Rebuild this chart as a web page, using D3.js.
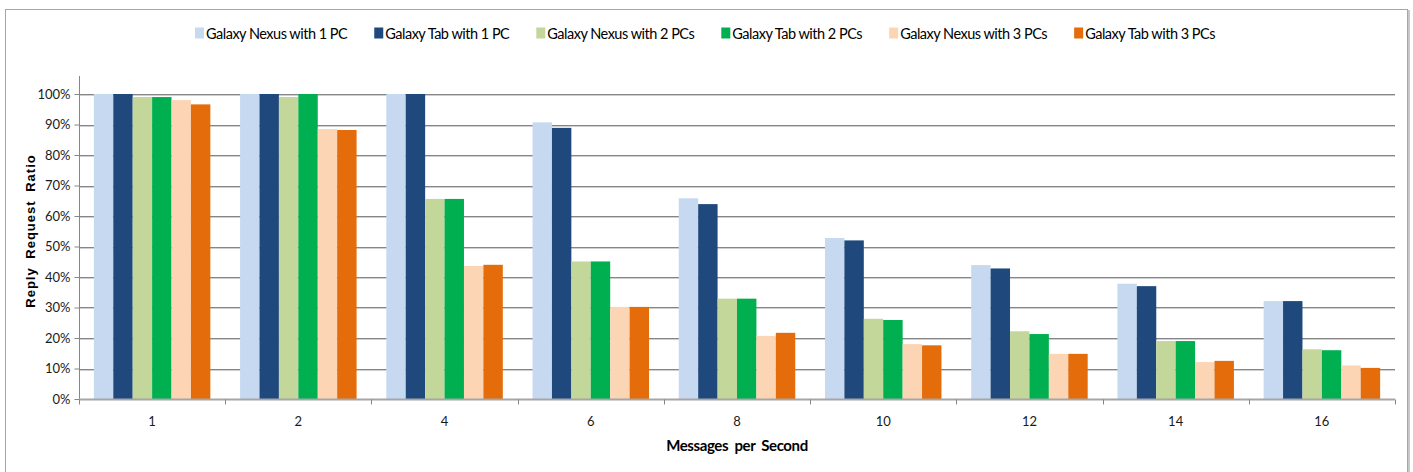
<!DOCTYPE html>
<html>
<head>
<meta charset="utf-8">
<script src="https://cdn.jsdelivr.net/npm/d3@7"></script>
<style>
  html, body { margin: 0; padding: 0; background: #fff; }
  svg { display: block; }
  .narrow { font-family: Lato, "Liberation Sans Narrow", "DejaVu Sans Condensed", sans-serif; }
</style>
</head>
<body>
<svg id="chart" width="1413" height="472"></svg>
<script>
// Message rates on the x axis
const categories = ["1", "2", "4", "6", "8", "10", "12", "14", "16"];

// Series names and their reply/request ratios (%) per message rate
const seriesNames = [
  "Galaxy Nexus with 1 PC",
  "Galaxy Tab with 1 PC",
  "Galaxy Nexus with 2 PCs",
  "Galaxy Tab with 2 PCs",
  "Galaxy Nexus with 3 PCs",
  "Galaxy Tab with 3 PCs"
];
const nexus1PC = [100, 100, 100, 90.7, 65.8, 52.8, 43.9, 37.8, 32.1];
const tab1PC   = [100, 100, 100, 88.9, 63.9, 52.0, 42.8, 37.0, 32.1];
const nexus2PC = [99.0, 99.0, 65.6, 45.1, 32.9, 26.3, 22.2, 19.0, 16.3];
const tab2PC   = [99.0, 100, 65.6, 45.1, 32.9, 25.9, 21.3, 19.0, 16.0];
const nexus3PC = [98.0, 88.5, 43.6, 30.2, 20.7, 18.0, 14.8, 12.1, 11.0];
const tab3PC   = [96.6, 88.2, 44.0, 30.2, 21.7, 17.6, 14.8, 12.5, 10.2];
const seriesValues = [nexus1PC, tab1PC, nexus2PC, tab2PC, nexus3PC, tab3PC];
const seriesColors = ["#C6D9F1", "#1F497D", "#C4D79B", "#00B050", "#FCD5B5", "#E46C0A"];

// Y tick values (ratio %)
const yTicks = [0, 10, 20, 30, 40, 50, 60, 70, 80, 90, 100];

const svg = d3.select("#chart");

// Outer chart frame
svg.append("rect")
  .attr("x", 5.5).attr("y", 9.5)
  .attr("width", 1402).attr("height", 480)
  .attr("fill", "none").attr("stroke", "#a6a6a6").attr("stroke-width", 1);
svg.append("line")
  .attr("x1", 1409).attr("x2", 1409).attr("y1", 10).attr("y2", 472)
  .attr("stroke", "#c8c8c8").attr("stroke-width", 2);

// Plot area
const plot = { left: 79, right: 1395, top: 76, bottom: 399 };

const y = d3.scaleLinear().domain([0, 100]).range([plot.bottom, plot.bottom - 305]);
const x0 = d3.scaleBand().domain(categories).range([plot.left, plot.right]).padding(0);
const groupWidth = 116.5;
const x1 = d3.scaleBand().domain(d3.range(seriesNames.length))
  .range([(x0.bandwidth() - groupWidth) / 2, (x0.bandwidth() + groupWidth) / 2]).padding(0);

// Gridlines (dark line with a soft lighter line underneath)
const grid = svg.append("g");
yTicks.filter(t => t > 0).forEach(t => {
  const yy = Math.round(y(t));
  grid.append("line").attr("x1", plot.left).attr("x2", plot.right)
    .attr("y1", yy + 0.5).attr("y2", yy + 0.5).attr("stroke", "#868686");
  grid.append("line").attr("x1", plot.left).attr("x2", plot.right)
    .attr("y1", yy + 1.5).attr("y2", yy + 1.5).attr("stroke", "#cfcfcf");
});

// Bars
const groups = svg.append("g").selectAll("g")
  .data(categories)
  .join("g")
  .attr("transform", d => `translate(${x0(d)},0)`);

groups.selectAll("rect")
  .data((d, i) => seriesValues.map((vals, s) => ({ s, v: vals[i] })))
  .join("rect")
  .attr("x", d => x1(d.s))
  .attr("width", x1.bandwidth())
  .attr("y", d => y(d.v))
  .attr("height", d => y(0) - y(d.v))
  .attr("fill", d => seriesColors[d.s]);

// Y axis
const yAxis = svg.append("g")
  .attr("transform", `translate(${plot.left + 0.5},0)`)
  .call(d3.axisLeft(y).tickValues(yTicks).tickFormat(d => d + "%").tickSize(5).tickSizeOuter(0));
yAxis.select(".domain").remove();
yAxis.append("line").attr("x1", 0).attr("x2", 0).attr("y1", plot.top).attr("y2", plot.bottom)
  .attr("stroke", "#868686");
yAxis.selectAll(".tick line").attr("stroke", "#868686");
yAxis.selectAll(".tick text").attr("font-size", 13).attr("fill", "#1a1a1a").attr("x", -9)
  .attr("font-family", "Lato, 'DejaVu Sans Condensed', sans-serif");

// X axis
const xAxis = svg.append("g")
  .attr("transform", `translate(0,${plot.bottom + 0.5})`);
xAxis.append("line").attr("x1", plot.left).attr("x2", plot.right).attr("y1", 0).attr("y2", 0)
  .attr("stroke", "#a6a6a6").attr("stroke-width", 2);
const xBoundaries = categories.map(c => x0(c)).concat([x0(categories[categories.length - 1]) + x0.bandwidth()]);
xAxis.selectAll("line.tk")
  .data(xBoundaries)
  .join("line").attr("class", "tk")
  .attr("x1", d => Math.round(d) + 0.5).attr("x2", d => Math.round(d) + 0.5)
  .attr("y1", 0).attr("y2", 5).attr("stroke", "#868686");
xAxis.selectAll("text")
  .data(categories)
  .join("text")
  .attr("class", "narrow")
  .attr("x", d => x0(d) + x0.bandwidth() / 2)
  .attr("y", 26)
  .attr("text-anchor", "middle")
  .attr("font-size", 13)
  .attr("fill", "#1a1a1a")
  .text(d => d);

// Axis titles
svg.append("text")
  .attr("transform", "translate(35,231) rotate(-90)")
  .attr("text-anchor", "middle")
  .attr("font-family", "'Liberation Sans', Arial, sans-serif")
  .attr("font-weight", "bold")
  .attr("font-size", 13)
  .attr("letter-spacing", 1)
  .attr("word-spacing", 4)
  .attr("fill", "#000")
  .text("Reply Request Ratio");

svg.append("text")
  .attr("class", "narrow")
  .attr("x", 737).attr("y", 451)
  .attr("text-anchor", "middle")
  .attr("font-weight", "bold")
  .attr("font-size", 15)
  .attr("letter-spacing", -0.4)
  .attr("word-spacing", 3)
  .attr("fill", "#000")
  .text("Messages per Second");

// Legend
const legend = svg.append("g").attr("class", "narrow");
let lx = 0;
const items = seriesNames.map((name, i) => {
  const g = legend.append("g");
  g.append("rect").attr("x", 0).attr("y", -5.5).attr("width", 9).attr("height", 11)
    .attr("fill", seriesColors[i]);
  const t = g.append("text").attr("x", 11).attr("y", 5.5)
    .attr("font-size", 14.5).attr("letter-spacing", -0.5)
    .attr("fill", "#000").text(name);
  return { g, w: 11 + t.node().getComputedTextLength() };
});
const gap = 27;
items.forEach(it => { it.g.attr("transform", `translate(${lx},0)`); lx += it.w + gap; });
const totalW = lx - gap;
legend.attr("transform", `translate(${705 - totalW / 2},33)`);
</script>
</body>
</html>
